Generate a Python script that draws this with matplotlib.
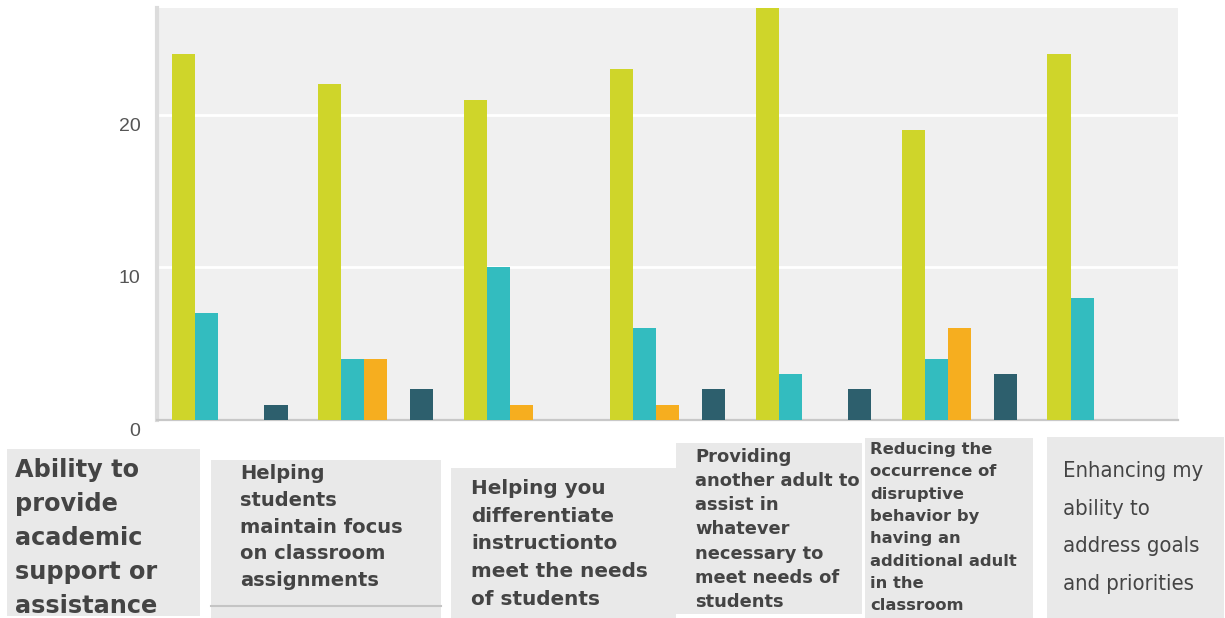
import numpy as np
import matplotlib.pyplot as plt
import matplotlib.transforms as mtransforms
from matplotlib.patches import Rectangle

# categories (text as shown in the label boxes under the bars)
categories = [
    "Ability to\nprovide\nacademic\nsupport or\nassistance",
    "Helping\nstudents\nmaintain focus\non classroom\nassignments",
    "Helping you\ndifferentiate\ninstructionto\nmeet the needs\nof students",
    "Providing\nanother adult to\nassist in\nwhatever\nnecessary to\nmeet needs of\nstudents",
    "Reducing the\noccurrence of\ndisruptive\nbehavior by\nhaving an\nadditional adult\nin the\nclassroom",
    "Enhancing my\nability to\naddress goals\nand priorities",
]

# counts per response series
series_a = [24, 22, 21, 23, 27, 19, 24]   # yellow-green
series_b = [7, 4, 10, 6, 3, 4, 8]         # teal
series_c = [0, 4, 1, 1, 0, 6, 0]          # orange
series_d = [0, 0, 0, 0, 0, 0, 0]          # empty slot
series_e = [1, 2, 0, 2, 2, 3, 0]          # dark teal

yticks = [0, 10, 20]

W, H = 1225, 618
fig = plt.figure(figsize=(W / 100, H / 100), dpi=100)
fig.patch.set_facecolor("white")


def fx(px):
    return px / W


def fy(py):
    return 1 - py / H


ax = fig.add_axes([fx(157), fy(420), fx(1178) - fx(157), fy(8) - fy(420)])
ax.set_facecolor("#f0f0f0")

x = np.arange(len(series_a))
w = 0.158
series = [series_a, series_b, series_c, series_d, series_e]
colors = ["#cfd52a", "#33bcbf", "#f6ae1f", "#999999", "#2d5f6d"]
for i, (vals, c) in enumerate(zip(series, colors)):
    ax.bar(x + (i - 2) * w, vals, width=w, color=c, linewidth=0, zorder=3)

ax.set_xlim(-0.5, len(x) - 0.5)
ax.set_ylim(0, 27)
ax.set_xticks([])
ax.set_yticks(yticks)
ax.set_yticklabels([str(t) for t in yticks], fontsize=14, color="#555555",
                   family="Liberation Sans", va="top")
ax.tick_params(axis="y", length=0, pad=12)
ax.yaxis.grid(True, color="white", linewidth=2, zorder=1)
ax.set_axisbelow(True)

for s in ["top", "right"]:
    ax.spines[s].set_visible(False)
ax.spines["left"].set_color("#dcdcdc")
ax.spines["left"].set_linewidth(3)
ax.spines["bottom"].set_color("#c8c8c8")
ax.spines["bottom"].set_linewidth(1.6)

# tick labels sit a little below their grid lines
offset = mtransforms.ScaledTranslation(0, -3 / 100, fig.dpi_scale_trans)
for lab in ax.get_yticklabels():
    lab.set_transform(lab.get_transform() + offset)

# label boxes: (left, top, right, bottom) px, text x, text top px, size pt, linespacing
boxes = [
    ((7, 449, 200, 616), 15, 458, 17.3, 1.52, "bold", "normal"),
    ((211, 460, 441, 618), 240, 464, 14, 1.52, "bold", "normal"),
    ((451, 468, 676, 618), 471, 479, 14.4, 1.58, "bold", "normal"),
    ((676, 443, 862, 614), 695, 448, 12.9, 1.44, "bold", "normal"),
    ((865, 438, 1033, 618), 870, 442, 11.8, 1.61, "bold", "normal"),
    ((1047, 437, 1224, 618), 1063, 461, 15.8, 2.1, "normal", "condensed"),
]

for lab, (rect, tx, ty, size, ls, wt, stretch) in zip(categories, boxes):
    l, t, r, b = rect
    fig.patches.append(Rectangle((fx(l), fy(b)), fx(r) - fx(l), fy(t) - fy(b),
                                 transform=fig.transFigure, facecolor="#e9e9e9",
                                 edgecolor="none", zorder=1))
    fig.text(fx(tx), fy(ty), lab, ha="left", va="top", fontsize=size,
             linespacing=ls, family="DejaVu Sans", weight=wt,
             fontstretch=stretch, color="#444444", zorder=2)

# thin rule under the second label
fig.add_artist(plt.Line2D([fx(211), fx(441)], [fy(606), fy(606)],
                          transform=fig.transFigure, color="#c4c4c4", linewidth=1.5))

fig.savefig("out.png", dpi=100)
